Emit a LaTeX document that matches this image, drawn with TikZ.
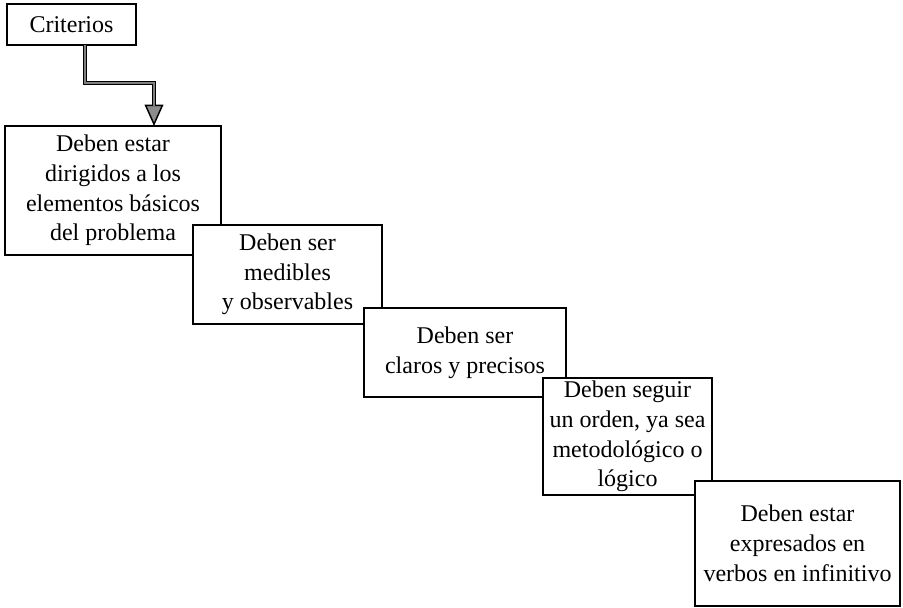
\documentclass[tikz,border=0pt]{standalone}
\usepackage{fontspec}
\setmainfont{Liberation Serif}
\usetikzlibrary{arrows.meta}
\begin{document}
\begin{tikzpicture}[x=0.75pt,y=-0.75pt,
  box/.style={draw=black, line width=1.4pt, fill=white, inner sep=0pt, outer sep=0pt,
    align=center, font=\fontsize{18pt}{22.3pt}\selectfont},
  connout/.style={draw=black, line width=2.8pt},
  connin/.style={draw=black!50, line width=0.8pt}]
\useasboundingbox (0,0) rectangle (903,607);
\node[box, minimum width=96.75pt, minimum height=30.75pt] (crit) at (71.5,24.5) {Criterios};
\node[box, minimum width=162pt, minimum height=96.75pt] (b1) at (113,190.5)
  {Deben estar\\dirigidos a los\\elementos básicos\\del problema};
\node[box, minimum width=141.75pt, minimum height=74.25pt] (b2) at (287.5,274.5)
  {Deben ser\\medibles\\y observables};
\node[box, minimum width=151.5pt, minimum height=66.75pt] (b3) at (465,352.5)
  {Deben ser\\claros y precisos};
\node[box, minimum width=126.75pt, minimum height=87.75pt] (b4) at (627.5,436.5)
  {Deben seguir\\un orden, ya sea\\metodológico o\\lógico};
\node[box, minimum width=153.75pt, minimum height=93.75pt] (b5) at (797.5,543.5)
  {Deben estar\\expresados en\\verbos en infinitivo};
\coordinate (k1) at (85,83);
\coordinate (k2) at (154,83);
\draw[line width=1.1pt, black, -{Triangle[length=16pt, width=14pt, fill=black!45, line width=1.1pt]}]
  (k2) -- (b1.north -| k2);
\draw[connout, line join=miter, shorten >=15pt] (crit.south -| k1) -- (k1) -- (k2) -- (b1.north -| k2);
\draw[connin, line join=miter, shorten >=15pt] (crit.south -| k1) -- (k1) -- (k2) -- (b1.north -| k2);
\end{tikzpicture}
\end{document}
